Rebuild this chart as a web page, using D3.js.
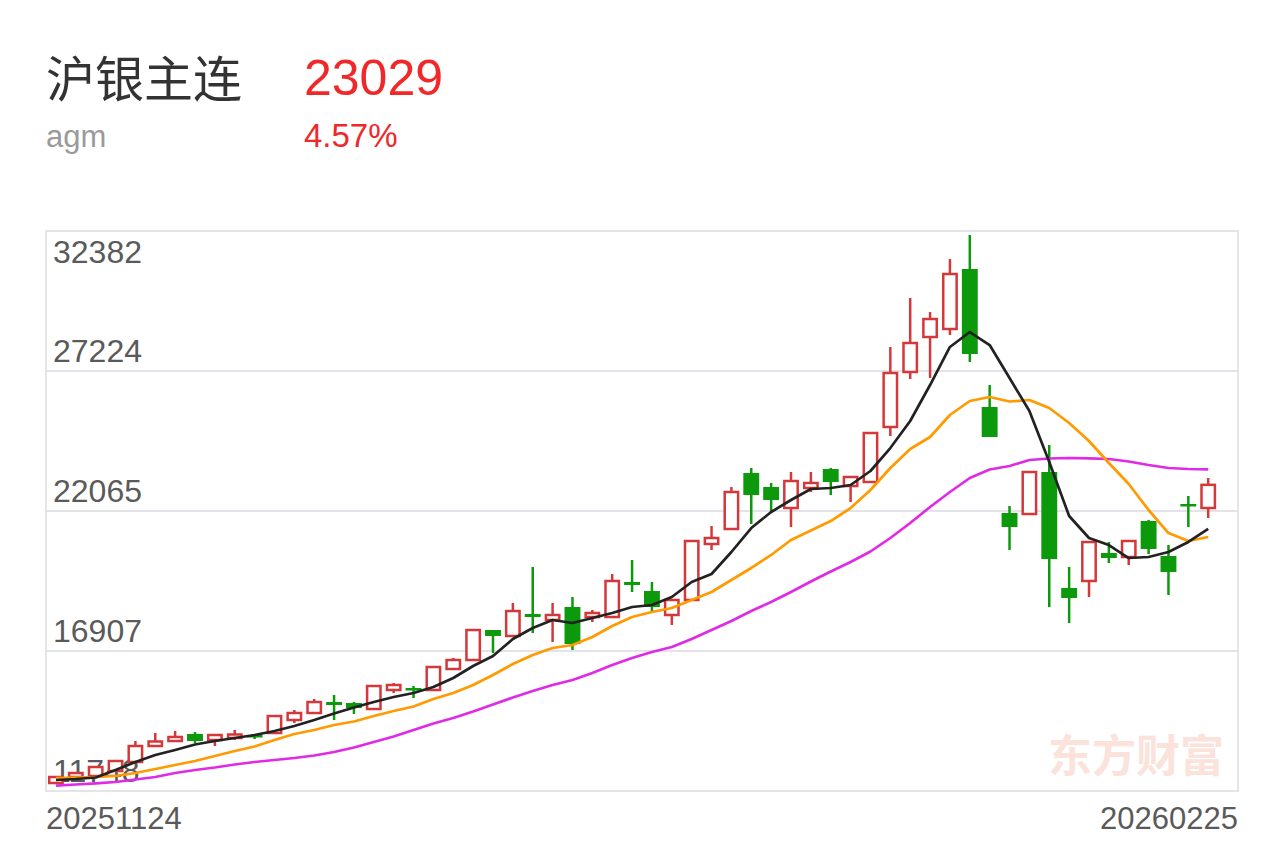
<!DOCTYPE html>
<html>
<head>
<meta charset="utf-8">
<script src="https://cdn.jsdelivr.net/npm/d3@7"></script>
<style>
  body { margin: 0; background: #fff; }
  text { font-family: "Liberation Sans", Arial, "Noto Sans CJK SC", sans-serif; }
</style>
</head>
<body>
<div id="chart"></div>
<script>
// header texts
var title = "沪银主连";
var code = "agm";
var lastPrice = "23029";
var changePct = "4.57%";
var watermark = "东方财富";

// candle data, one entry per trading day
var opens = [12043, 12264, 12301, 12485, 12816, 13406, 13590, 13848, 13627, 13701,
  13811, 13885, 14364, 14622, 15027, 14990, 14769, 15469, 15543, 15469,
  16243, 16575, 17680, 17459, 18270, 18049, 18528, 18159, 18159, 19449,
  19117, 18233, 18786, 20849, 21402, 23465, 22949, 22175, 22912, 23612,
  22986, 23133, 25160, 27187, 28476, 28771, 30982, 25897, 21991, 21954,
  23502, 19228, 19486, 20517, 20370, 21696, 20407, 22323, 22175];
var closes = [12264, 12411, 12632, 12853, 13406, 13572, 13738, 13590, 13811, 13830,
  13738, 14511, 14622, 15027, 14917, 14806, 15617, 15654, 15469, 16317,
  16575, 17680, 17459, 18380, 18159, 18233, 17164, 18307, 19486, 19338,
  18528, 18786, 20960, 21070, 22765, 22654, 22470, 23170, 23097, 23133,
  23318, 24939, 27150, 28255, 29139, 30797, 27850, 24791, 21475, 23502,
  20296, 18859, 20923, 20333, 20960, 20665, 19817, 22249, 23029];
var highs = [12301, 12448, 12669, 12890, 13590, 13885, 13959, 13922, 13811, 13996,
  13848, 14511, 14733, 15138, 15285, 15027, 15617, 15727, 15617, 16354,
  16649, 17680, 17680, 18675, 20002, 18675, 18896, 18417, 19744, 20259,
  19449, 18822, 20997, 21512, 22949, 23649, 23097, 23502, 23502, 23649,
  23354, 24976, 28108, 29913, 29397, 31350, 32234, 26707, 22249, 23538,
  24497, 20002, 20960, 20923, 20960, 21733, 20812, 22618, 23281];
var lows = [12006, 12227, 12264, 12448, 12816, 13406, 13590, 13517, 13406, 13627,
  13664, 13885, 14254, 14622, 14364, 14585, 14733, 15359, 15175, 15433,
  16206, 16538, 16833, 17422, 17570, 17238, 16943, 17975, 18159, 19080,
  18343, 17864, 18749, 20628, 21402, 21586, 22028, 21475, 22765, 22654,
  22397, 23133, 24828, 26929, 26966, 28550, 27555, 24791, 20628, 21917,
  18528, 17938, 18896, 20149, 20075, 20480, 18970, 21475, 21807];

// moving averages as shown on the chart
var ma5 = [12153, 12190, 12245, 12522, 12816, 13074, 13259, 13461, 13590, 13701,
  13811, 13959, 14143, 14364, 14604, 14825, 15027, 15212, 15359, 15580,
  15912, 16354, 16723, 17349, 17754, 18049, 17938, 18122, 18307, 18528,
  18601, 18896, 19449, 19744, 20554, 21438, 22028, 22470, 22875, 22912,
  23023, 23539, 24386, 25381, 26707, 28108, 28660, 28181, 26965, 25750,
  23870, 21881, 21070, 20812, 20333, 20370, 20554, 20923, 21402];
var ma10 = [12227, 12245, 12264, 12301, 12411, 12559, 12706, 12853, 13038, 13222,
  13388, 13627, 13848, 13996, 14180, 14309, 14511, 14696, 14861, 15138,
  15359, 15654, 16022, 16426, 16759, 17017, 17128, 17422, 17828, 18159,
  18343, 18491, 18786, 19080, 19523, 19965, 20444, 20997, 21346, 21696,
  22175, 22839, 23649, 24349, 24791, 25602, 26118, 26265, 26099, 26155,
  25860, 25307, 24644, 23834, 23060, 22102, 21254, 20960, 21107];
var ma20 = [11943, 11988, 12032, 12080, 12172, 12264, 12411, 12522, 12614, 12724,
  12816, 12890, 12964, 13056, 13185, 13351, 13553, 13756, 13996, 14235,
  14438, 14677, 14935, 15193, 15433, 15654, 15838, 16096, 16391, 16649,
  16870, 17054, 17349, 17680, 18012, 18380, 18712, 19080, 19467, 19836,
  20186, 20573, 21070, 21623, 22212, 22765, 23281, 23594, 23723, 23944,
  23999, 24018, 24007, 23981, 23889, 23760, 23649, 23612, 23601];

var yTicks = [32382, 27224, 22065, 16907, 11748];
var xLabels = ["20251124", "20260225"];
var slotCount = 60;

var W = 1284, H = 843;
var plot = {left: 46, right: 1238, top: 231, bottom: 791};
var upColor = "#d5383a", downColor = "#0c9a0c", textRed = "#f0282a";

var svg = d3.select("#chart").append("svg")
  .attr("width", W).attr("height", H);

// header
svg.append("text").attr("x", 46).attr("y", 97)
  .attr("font-size", 49).attr("fill", "#333")
  .style("font-family", "'Noto Sans CJK SC', sans-serif")
  .text(title);
svg.append("text").attr("x", 304).attr("y", 95)
  .attr("font-size", 50).attr("fill", textRed).text(lastPrice);
svg.append("text").attr("x", 46).attr("y", 147)
  .attr("font-size", 31).attr("fill", "#9a9a9a").text(code);
svg.append("text").attr("x", 304).attr("y", 147)
  .attr("font-size", 33).attr("fill", textRed).text(changePct);

// scales
var x = d3.scaleBand().domain(d3.range(slotCount))
  .range([plot.left, plot.right]).paddingInner(0.2).paddingOuter(0.1);
var y = d3.scaleLinear().domain([yTicks[yTicks.length - 1], yTicks[0]])
  .range([plot.bottom, plot.top]);
var cx = function(i) { return x(i) + x.bandwidth() / 2; };

// gridlines
svg.append("g").selectAll("line").data(yTicks.slice(1, -1)).join("line")
  .attr("x1", plot.left).attr("x2", plot.right)
  .attr("y1", function(d) { return y(d); }).attr("y2", function(d) { return y(d); })
  .attr("stroke", "#e2e4e9").attr("stroke-width", 2);

// frame
svg.append("rect")
  .attr("x", plot.left).attr("y", plot.top)
  .attr("width", plot.right - plot.left).attr("height", plot.bottom - plot.top)
  .attr("fill", "none").attr("stroke", "#dcdde2").attr("stroke-width", 1.5);

// watermark
svg.append("text").attr("x", 1224).attr("y", 772).attr("text-anchor", "end")
  .attr("font-size", 44).attr("font-weight", "bold").attr("fill", "#fbe2da")
  .style("font-family", "'Noto Sans CJK SC', sans-serif")
  .text(watermark);

// y labels
svg.append("g").selectAll("text").data(yTicks).join("text")
  .attr("x", 53)
  .attr("y", function(d, i) { return i === 0 ? y(d) + 32 : y(d) - 9; })
  .attr("font-size", 32).attr("fill", "#5a5a5a")
  .text(function(d) { return d; });

// x labels
svg.append("text").attr("x", 46).attr("y", 829)
  .attr("font-size", 31).attr("fill", "#5a5a5a").text(xLabels[0]);
svg.append("text").attr("x", 1238).attr("y", 829).attr("text-anchor", "end")
  .attr("font-size", 31).attr("fill", "#5a5a5a").text(xLabels[1]);

// candles
var candles = d3.range(opens.length).map(function(i) {
  return {i: i, o: opens[i], c: closes[i], h: highs[i], l: lows[i]};
});
var g = svg.append("g");
var bw = x.bandwidth();

candles.forEach(function(d) {
  var up = d.c >= d.o;
  var col = up ? upColor : downColor;
  var top = y(Math.max(d.o, d.c)), bot = y(Math.min(d.o, d.c));
  // upper and lower wicks
  g.append("line").attr("x1", cx(d.i)).attr("x2", cx(d.i))
    .attr("y1", y(d.h)).attr("y2", top)
    .attr("stroke", col).attr("stroke-width", 2.5);
  g.append("line").attr("x1", cx(d.i)).attr("x2", cx(d.i))
    .attr("y1", bot).attr("y2", y(d.l))
    .attr("stroke", col).attr("stroke-width", 2.5);
  if (up) {
    g.append("rect").attr("x", x(d.i) + 1.25).attr("y", top)
      .attr("width", bw - 2.5).attr("height", Math.max(bot - top, 1))
      .attr("fill", "#fff").attr("stroke", col).attr("stroke-width", 2.5);
  } else {
    g.append("rect").attr("x", x(d.i)).attr("y", top)
      .attr("width", bw).attr("height", Math.max(bot - top, 2.5))
      .attr("fill", col);
  }
});

// moving average lines
var line = d3.line()
  .x(function(d, i) { return cx(i); })
  .y(function(d) { return y(d); });

[[ma20, "#e02be6"], [ma10, "#ff9a00"], [ma5, "#222"]].forEach(function(m) {
  svg.append("path").datum(m[0])
    .attr("d", line)
    .attr("fill", "none").attr("stroke", m[1]).attr("stroke-width", 2.7)
    .attr("stroke-linejoin", "round");
});
</script>
</body>
</html>
